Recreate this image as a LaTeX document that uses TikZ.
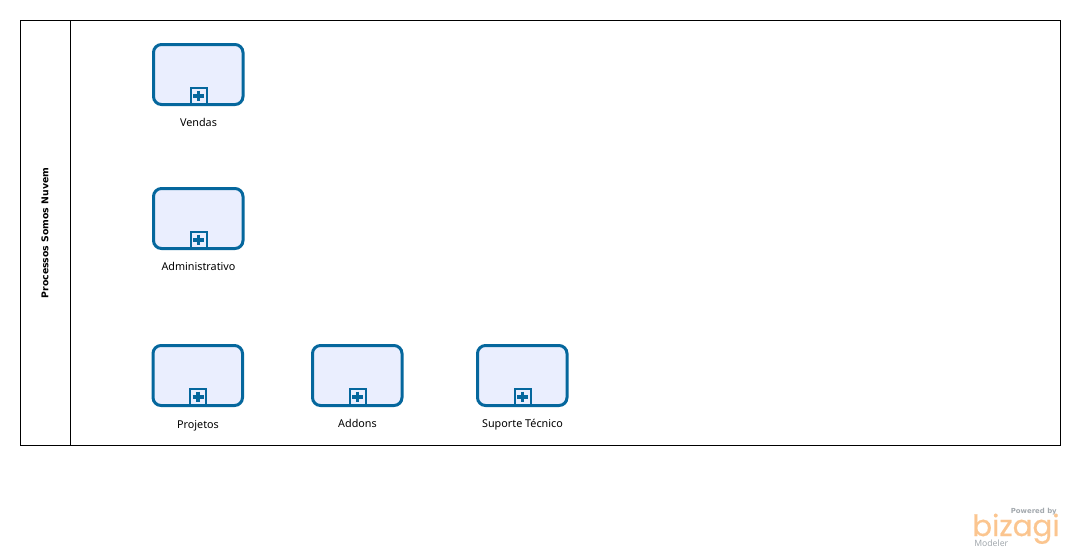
\documentclass[tikz,border=0pt]{standalone}
\usepackage{fontspec}
\setmainfont{Noto Sans}
\newfontfamily\logofont[FakeBold=0.6]{Poppins}
\newfontfamily\poolfont{DejaVu Sans}
\definecolor{taskblue}{HTML}{05679D}
\definecolor{taskfill}{HTML}{EAEEFE}
\definecolor{logoorange}{HTML}{FBC58F}
\definecolor{logogray}{HTML}{A3A9AE}
\tikzset{
  x=0.75pt,y=-0.75pt,
  poolline/.style={draw=black,line width=0.75pt},
  taskbox/.style={draw=taskblue,fill=taskfill,line width=2.25pt,rounded corners=6pt},
  markerbox/.style={draw=taskblue,fill=taskfill,line width=1.5pt},
  plusmark/.style={draw=taskblue,line width=2.7pt},
  tasklabel/.style={font=\fontsize{8.1pt}{9pt}\selectfont,text=black,inner sep=0pt,anchor=base},
}
\newcommand{\subtask}[5]{%
  \draw[taskbox] (#2+1.5,#3+1.5) rectangle (#2+91,#3+61.5);
  \draw[markerbox] (#2+38.5,#3+44.5) rectangle (#2+54.5,#3+61);
  \draw[plusmark] (#2+46.5,#3+47.5) -- (#2+46.5,#3+58) (#2+41,#3+52.75) -- (#2+52,#3+52.75);
  \node[tasklabel] (#1) at (#2+46.5,#3+#5) {#4};
}
\begin{document}
\begin{tikzpicture}
\useasboundingbox (0,0) rectangle (1080,558);
\draw[poolline] (20.5,20.5) rectangle (1060.5,445.5);
\draw[poolline] (70.5,20.5) -- (70.5,445.5);
\node[rotate=90,font=\poolfont\fontsize{7pt}{9pt}\selectfont\bfseries,inner sep=0pt] (pool) at (45,233) {Processos Somos Nuvem};
\subtask{vendas}{152}{43}{Vendas}{83}
\subtask{admin}{152}{187}{Administrativo}{83}
\subtask{projetos}{151.5}{344}{Projetos}{84}
\subtask{addons}{311}{344}{Addons}{83}
\subtask{suporte}{476}{344}{Suporte Técnico}{83}
\node[font=\poolfont\fontsize{5.2pt}{6pt}\selectfont\bfseries,text=logogray,inner sep=0pt,anchor=base east] (powered) at (1057,513) {Powered by};
\node[font=\logofont\fontsize{22pt}{26pt}\selectfont,text=logoorange,inner sep=0pt,anchor=base west] (bizagi) at (972,536) {bizagi};
\node[font=\fontsize{6.5pt}{7pt}\selectfont,text=logogray,inner sep=0pt,anchor=base west] (modeler) at (974,546) {Modeler};
\end{tikzpicture}
\end{document}
